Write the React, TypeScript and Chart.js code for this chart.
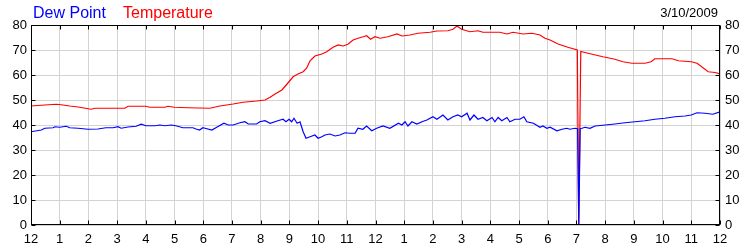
import React, { useEffect, useRef } from 'react';
import { Chart, registerables } from 'chart.js';

Chart.register(...registerables);

const FONT = '"Liberation Sans", Arial, sans-serif';

const legendLabels = ['Dew Point', 'Temperature'];
const dateLabel = '3/10/2009';
const yTickValues = [0, 10, 20, 30, 40, 50, 60, 70, 80];
const hourLabels = ['12', '1', '2', '3', '4', '5', '6', '7', '8', '9', '10', '11', '12', '1', '2', '3', '4', '5', '6', '7', '8', '9', '10', '11', '12'];

const tempHours = [
  0, 0.48, 0.88, 1.05, 1.35, 1.64, 1.99, 2.1, 2.22, 3.27, 3.38, 4.0, 4.14, 4.66, 4.77, 5.0, 5.47, 6.23, 6.58, 7.04,
  7.39, 7.86, 8.15, 8.33, 8.5, 8.74, 8.92, 9.13, 9.3, 9.48, 9.6, 9.72, 9.89, 10.13, 10.3, 10.52, 10.7, 10.87, 11.04, 11.22,
  11.39, 11.57, 11.69, 11.83, 11.98, 12.16, 12.43, 12.75, 12.92, 13.2, 13.48, 13.9, 14.14, 14.52, 14.7, 14.84, 15.0, 15.29, 15.57, 15.74,
  16.33, 16.58, 16.79, 17.14, 17.45, 17.73, 17.9, 18.08, 18.36, 18.7, 19.03, 19.08, 19.15, 19.4, 19.92, 20.34, 20.62, 20.93, 21.39, 21.6,
  21.73, 22.33, 22.55, 23.0, 23.2, 23.59, 23.83, 24.0,
];
const tempValues = [
  47.6, 48, 48.3, 48.1, 47.6, 47.2, 46.5, 46.3, 46.7, 46.7, 47.5, 47.5, 47.1, 47.1, 47.5, 47.1, 46.9, 46.7, 47.6, 48.4,
  49.1, 49.6, 50, 51.1, 52.4, 54, 56.4, 59.3, 60.4, 61.3, 62.7, 65.7, 67.6, 68.4, 69.3, 71.1, 72, 71.6, 72.3, 74,
  74.7, 75.3, 75.7, 74.3, 75.3, 74.7, 75.3, 76.4, 75.6, 76, 76.7, 77.1, 77.6, 77.7, 78.3, 79.6, 78.3, 77.3, 77.7, 77.1,
  77.1, 76.4, 77.1, 76.4, 76.7, 76, 74.7, 74, 72.4, 71.1, 70, 0, 69.4, 68.7, 67.3, 66.3, 65.3, 64.7, 64.7, 65.3,
  66.5, 66.5, 65.7, 65.3, 64.7, 61.3, 61, 60.4,
];

const dewHours = [
  0, 0.36, 0.48, 0.77, 0.83, 1.0, 1.23, 1.35, 1.64, 1.99, 2.33, 2.61, 2.86, 3.03, 3.14, 3.38, 3.66, 3.84, 4.0, 4.31,
  4.49, 4.66, 4.88, 5.05, 5.29, 5.64, 5.75, 5.87, 5.99, 6.06, 6.3, 6.47, 6.72, 6.87, 7.04, 7.28, 7.45, 7.57, 7.86, 7.97,
  8.15, 8.33, 8.6, 8.78, 8.88, 8.99, 9.08, 9.16, 9.27, 9.37, 9.48, 9.58, 9.72, 9.89, 10.0, 10.13, 10.24, 10.41, 10.59, 10.76,
  10.94, 11.11, 11.29, 11.39, 11.56, 11.69, 11.87, 12.04, 12.26, 12.5, 12.8, 12.92, 13.03, 13.13, 13.27, 13.44, 13.62, 13.79, 14.0, 14.14,
  14.35, 14.52, 14.7, 14.87, 15.0, 15.19, 15.29, 15.43, 15.57, 15.74, 15.88, 16.06, 16.16, 16.27, 16.4, 16.58, 16.68, 16.86, 17.03, 17.17,
  17.27, 17.5, 17.73, 17.83, 17.97, 18.08, 18.32, 18.5, 18.66, 18.77, 18.95, 19.04, 19.08, 19.13, 19.19, 19.3, 19.47, 19.65, 20.0, 20.34,
  20.69, 21.04, 21.39, 21.73, 22.08, 22.43, 22.78, 23.0, 23.2, 23.48, 23.75, 24.0,
];
const dewValues = [
  37.3, 38, 38.7, 38.9, 39.3, 39.1, 39.5, 38.9, 38.7, 38.3, 38.4, 38.9, 38.9, 39.3, 38.7, 39.2, 39.5, 40.3, 39.7, 39.7,
  40, 39.7, 40, 39.7, 38.9, 38.9, 38.4, 38, 38.9, 38.7, 38, 39.1, 40.7, 40, 40, 40.9, 41.3, 40.4, 40.4, 41.3,
  41.7, 40.7, 41.7, 42.3, 41.3, 42.3, 41.3, 42.7, 40.7, 41.3, 37.3, 34.7, 35.3, 36, 34.7, 35.3, 36, 36.4, 35.6, 36,
  36.9, 36.7, 36.7, 38.7, 38.3, 39.6, 37.7, 38.7, 39.6, 38.7, 40.7, 40, 41.3, 39.6, 41.3, 40.4, 41.3, 42, 43.3, 42.3,
  44, 42, 43.3, 44, 43.3, 44.7, 42, 44, 42.3, 43, 41.7, 43, 41.3, 43, 41.7, 43, 41.3, 42.3, 42.3, 43.3,
  41.3, 40.7, 39.1, 39.6, 38.7, 39.1, 37.7, 38.3, 38.7, 38.3, 38.7, 38.5, 0, 38.5, 38.7, 39.1, 38.7, 39.6, 40, 40.4,
  40.9, 41.3, 41.7, 42.3, 42.7, 43.3, 43.6, 44, 44.9, 44.7, 44.3, 45.3,
];

const DEW_COLOR = '#0000ff';
const TEMP_COLOR = '#ff0000';

const framePlugin = {
  id: 'frameTicks',
  afterDraw(chart: any) {
    const ctx = chart.ctx;
    const { left, right, top, bottom } = chart.chartArea;
    const L = Math.round(left) + 0.5;
    const R = Math.round(right) - 0.5;
    const T = Math.round(top) + 0.5;
    const B = Math.round(bottom) - 0.5;
    ctx.save();
    ctx.strokeStyle = '#000';
    ctx.lineWidth = 1;
    ctx.beginPath();
    const xs = chart.scales.x;
    xs.ticks.forEach((t: any) => {
      const px = Math.round(xs.getPixelForValue(t.value)) + 0.5;
      ctx.moveTo(px, B);
      ctx.lineTo(px, B - 4);
      ctx.moveTo(px, T);
      ctx.lineTo(px, T + 4);
    });
    const ys = chart.scales.y;
    ys.ticks.forEach((t: any) => {
      const py = Math.round(ys.getPixelForValue(t.value)) + 0.5;
      ctx.moveTo(L, py);
      ctx.lineTo(L + 4, py);
      ctx.moveTo(R, py);
      ctx.lineTo(R - 4, py);
    });
    ctx.stroke();
    ctx.strokeRect(L, T, R - L, B - T);
    ctx.restore();
  },
};

const headerPlugin = {
  id: 'header',
  afterDraw(chart: any) {
    const ctx = chart.ctx;
    ctx.save();
    ctx.textBaseline = 'alphabetic';
    ctx.font = `16px ${FONT}`;
    ctx.textAlign = 'left';
    ctx.fillStyle = DEW_COLOR;
    ctx.fillText(legendLabels[0], 33, 18);
    ctx.fillStyle = TEMP_COLOR;
    ctx.fillText(legendLabels[1], 123, 18);
    ctx.font = `13px ${FONT}`;
    ctx.textAlign = 'right';
    ctx.fillStyle = '#000';
    ctx.fillText(dateLabel, 718, 17);
    ctx.restore();
  },
};

export default function App() {
  const ref = useRef<HTMLCanvasElement>(null);
  useEffect(() => {
    document.body.style.margin = '0';
    const tickFont = { family: FONT, size: 13 };
    const chart = new Chart(ref.current as HTMLCanvasElement, {
      type: 'line',
      data: {
        datasets: [
          {
            label: legendLabels[0],
            data: dewHours.map((h, i) => ({ x: h, y: dewValues[i] })),
            borderColor: DEW_COLOR,
            borderWidth: 1.2,
            pointRadius: 0,
            tension: 0,
            fill: false,
          },
          {
            label: legendLabels[1],
            data: tempHours.map((h, i) => ({ x: h, y: tempValues[i] })),
            borderColor: TEMP_COLOR,
            borderWidth: 1.2,
            pointRadius: 0,
            tension: 0,
            fill: false,
          },
        ],
      },
      options: {
        animation: false,
        responsive: false,
        devicePixelRatio: 1,
        layout: { padding: { top: 25, left: 0, right: 0, bottom: 0 } },
        plugins: { legend: { display: false }, tooltip: { enabled: false } },
        scales: {
          x: {
            type: 'linear',
            position: 'bottom',
            min: 0,
            max: 24,
            afterBuildTicks: (s: any) => {
              s.ticks = hourLabels.map((_, i) => ({ value: i }));
            },
            ticks: {
              autoSkip: false,
              maxRotation: 0,
              padding: 7,
              color: '#000',
              font: tickFont,
              callback: (v: any) => hourLabels[Math.round(Number(v))],
            },
            grid: { color: '#d3d3d3', drawTicks: false },
            border: { display: false },
            afterFit: (s: any) => {
              s.height = 25;
            },
          },
          y: {
            type: 'linear',
            position: 'left',
            min: 0,
            max: 80,
            afterBuildTicks: (s: any) => {
              s.ticks = yTickValues.map((v) => ({ value: v }));
            },
            ticks: { padding: 4, color: '#000', font: tickFont },
            grid: { color: '#d3d3d3', drawTicks: false },
            border: { display: false },
            afterFit: (s: any) => {
              s.width = 31;
            },
          },
          y2: {
            type: 'linear',
            position: 'right',
            min: 0,
            max: 80,
            afterBuildTicks: (s: any) => {
              s.ticks = yTickValues.map((v) => ({ value: v }));
            },
            ticks: { padding: 5, color: '#000', font: tickFont },
            grid: { display: false, drawTicks: false },
            border: { display: false },
            afterFit: (s: any) => {
              s.width = 30;
            },
          },
        },
      } as any,
      plugins: [framePlugin, headerPlugin],
    });
    return () => chart.destroy();
  }, []);
  return (
    <div style={{ position: 'relative', width: 750, height: 250 }}>
      <canvas ref={ref} width={750} height={250} style={{ display: 'block' }} />
    </div>
  );
}
